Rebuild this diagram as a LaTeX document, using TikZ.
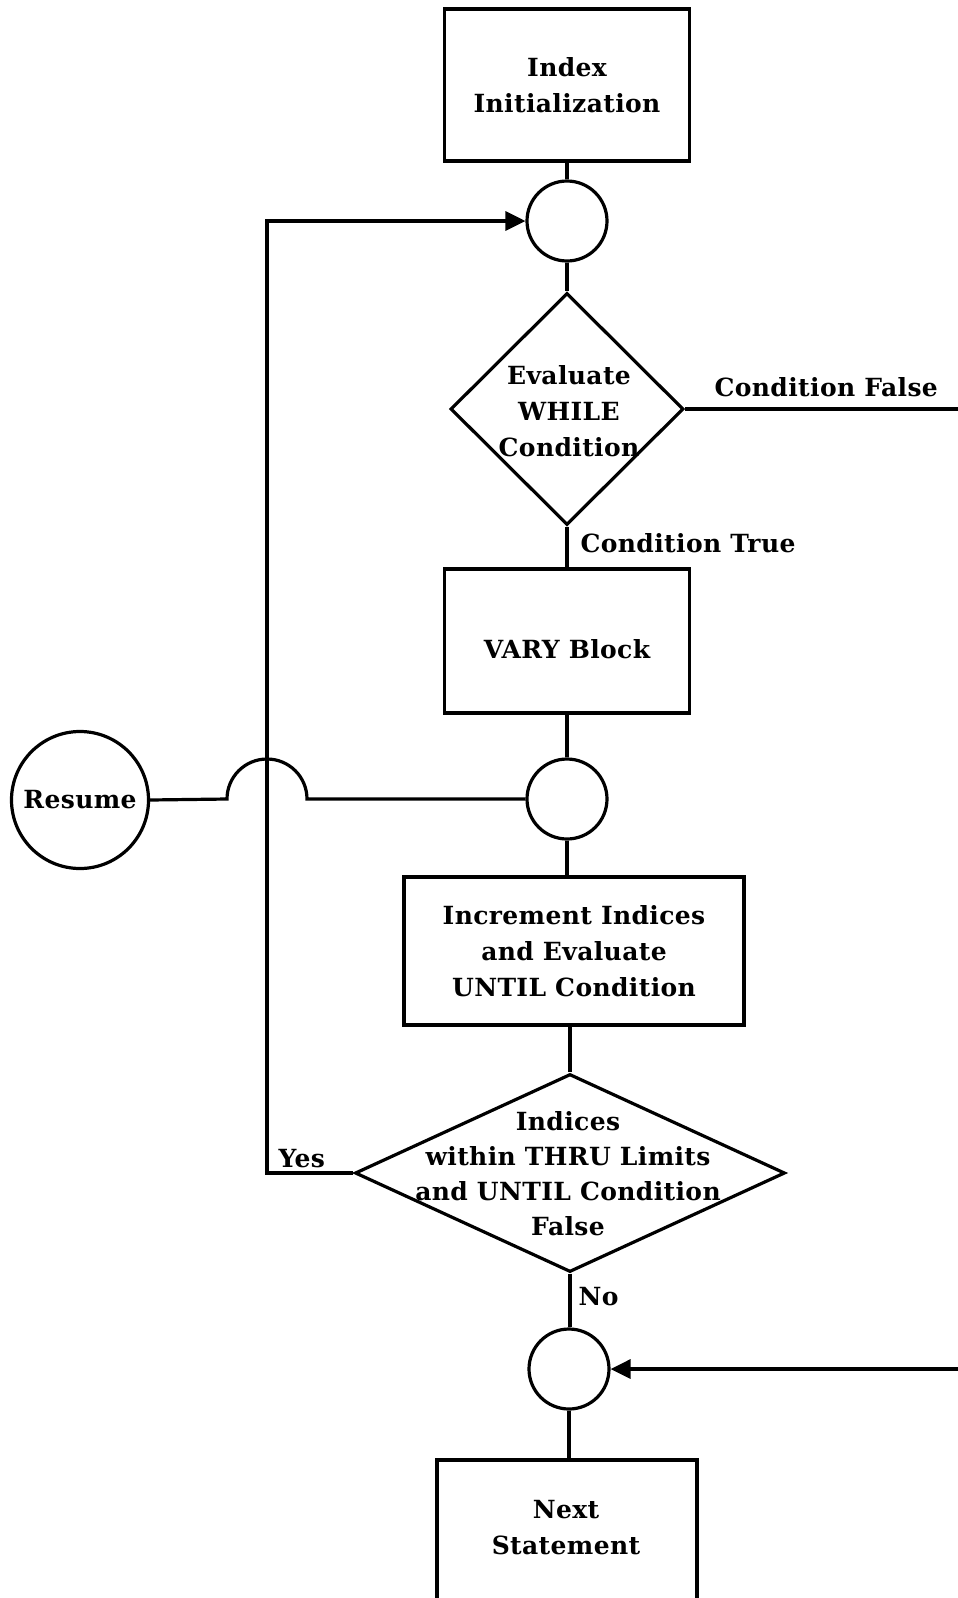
\documentclass[tikz,border=0pt]{standalone}
\usepackage{fontspec}
\setmainfont{DejaVu Serif}[LetterSpace=1.5]
\usetikzlibrary{shapes.geometric,arrows.meta}
\begin{document}
\begin{tikzpicture}[x=1pt,y=-1pt,line width=3.2pt,
  fnt/.style={font=\fontsize{25}{36}\selectfont\bfseries},
  box/.style={draw,rectangle,inner sep=0pt,align=center,fnt},
  conn/.style={draw,circle,inner sep=0pt,minimum size=80pt},
  dec/.style={draw,diamond,inner sep=0pt},
  txt/.style={align=center,inner sep=0pt,fnt},
  lab/.style={inner sep=0pt,anchor=west,fnt},
  arr/.style={-{Triangle[length=20pt,width=19pt]}},
]
\clip (0,0) rectangle (958,1598);
\fill[white] (0,0) rectangle (958,1598);

% nodes
\node[box,minimum width=245pt,minimum height=152pt] (init) at (567,85) {Index\\Initialization};
\node[conn] (c1) at (567,221) {};
\node[dec,minimum width=233pt,minimum height=232pt] (d1) at (567,409) {};
\node[txt] (d1t) at (569,411) {Evaluate\\WHILE\\Condition};
\node[box,minimum width=245pt,minimum height=144pt,text height=34pt,text depth=0pt] (vary) at (567,641) {VARY Block};
\node[conn] (c2) at (567,799) {};
\node[draw,circle,inner sep=0pt,minimum size=137pt,fnt] (resume) at (80,800) {Resume};
\node[box,minimum width=340pt,minimum height=148pt] (inc) at (574,951) {Increment Indices\\and Evaluate\\UNTIL Condition};
\node[dec,minimum width=430pt,minimum height=198pt] (d2) at (570,1173) {};
\node[txt,font=\fontsize{25}{35}\selectfont\bfseries] (d2t) at (568,1174) {Indices\\within THRU Limits\\and UNTIL Condition\\False};
\node[conn] (c3) at (569,1369) {};
\node[box,minimum width=260pt,minimum height=164pt] (next) at (567,1542) {};
\node[txt] (nextt) at (566,1528) {Next\\Statement};

% labels
\node[lab] (cf) at (713,387) {Condition False};
\node[lab] (ct) at (579,543) {Condition True};
\node[lab] (yes) at (277,1159) {Yes};
\node[lab] (no) at (577,1297) {No};

% helper coordinates
\coordinate (yesc) at (267,1173);
\coordinate (topc) at (267,221);
\coordinate (j1) at (227,799);
\coordinate (fr1) at (985,409);
\coordinate (fr2) at (985,1369);

% connectors
\draw (init.south) -- (c1.north);
\draw (c1.south) -- (d1.north);
\draw (d1.south) -- (vary.north);
\draw (vary.south) -- (c2.north);
\draw (c2.south) -- (c2.south |- inc.north);
\draw (d2.north |- inc.south) -- (d2.north);
\draw (d2.south) -- (d2.south |- c3.north);
\draw (c3.south) -- (c3.south |- next.north);
\draw[arr] (d2.west) -- (yesc) -- (topc) -- (c1.west);
\draw (resume.east) -- (j1) arc[start angle=180,end angle=0,radius=40pt] -- (c2.west);
\draw[arr] (d1.east) -- (fr1) -- (fr2) -- (c3.east);
\end{tikzpicture}
\end{document}
